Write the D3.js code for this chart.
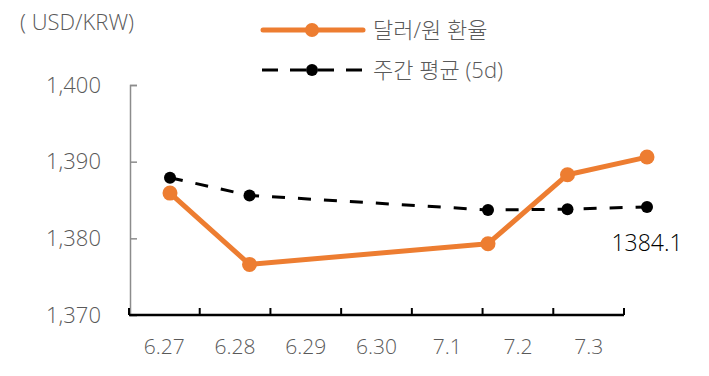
<!DOCTYPE html>
<html>
<head>
<meta charset="utf-8">
<script src="https://cdn.jsdelivr.net/npm/d3@7"></script>
<style>
  body { margin: 0; background: #fff; }
  text { font-family: "Open Sans", "Noto Sans CJK KR", sans-serif; font-weight: 300; }
</style>
</head>
<body>
<div id="chart"></div>
<script>
// 데이터 (6.29, 6.30 은 값 없음)
const dates = ["6.27", "6.28", "6.29", "6.30", "7.1", "7.2", "7.3"];
const usdKrw = [1385.9, 1376.6, null, null, 1379.3, 1388.3, 1390.6];
const weeklyAvg = [1387.9, 1385.6, null, null, 1383.7, 1383.8, 1384.1];
const yTicks = [1370, 1380, 1390, 1400];
const seriesNames = ["달러/원 환율", "주간 평균 (5d)"];
const lastLabel = "1384.1";

const width = 709, height = 376;
const orange = "#ED7D31";

const svg = d3.select("#chart").append("svg")
  .attr("width", width)
  .attr("height", height);

// 축 스케일
const xAxisScale = d3.scaleBand().domain(dates).range([129, 624]);
const xLine = d3.scalePoint().domain(dates).range([170, 647]);
const y = d3.scaleLinear().domain([1370, 1400]).range([315, 85]);

// y축
const yAxis = svg.append("g")
  .attr("transform", "translate(130,0)")
  .call(d3.axisRight(y).tickValues(yTicks).tickSize(7).tickFormat(""));
yAxis.select(".domain").attr("stroke", "#8c8c8c").attr("stroke-width", 1.5);
yAxis.selectAll(".tick line").attr("stroke", "#8c8c8c").attr("stroke-width", 1.5);

svg.selectAll(".ylab")
  .data(yTicks)
  .join("text")
  .attr("x", 101)
  .attr("y", d => y(d))
  .attr("dy", "0.35em")
  .attr("text-anchor", "end")
  .attr("font-size", 22)
  .attr("fill", "#595959")
  .text(d => d3.format(",")(d));

// x축
const xAxis = svg.append("g")
  .attr("transform", "translate(0,315)")
  .call(d3.axisBottom(xAxisScale).tickSize(0).tickFormat(""));
xAxis.select(".domain").remove();
svg.append("line")
  .attr("x1", 129).attr("x2", 624)
  .attr("y1", 315).attr("y2", 315)
  .attr("stroke", "#000").attr("stroke-width", 2.5);
const bounds = dates.map(d => xAxisScale(d)).concat([xAxisScale.range()[1]]);
svg.selectAll(".xtick")
  .data(bounds)
  .join("line")
  .attr("x1", d => d).attr("x2", d => d)
  .attr("y1", 315).attr("y2", 308)
  .attr("stroke", "#000").attr("stroke-width", 2);

svg.selectAll(".xlab")
  .data(dates)
  .join("text")
  .attr("x", d => xAxisScale(d) + xAxisScale.bandwidth() / 2)
  .attr("y", 347)
  .attr("dy", "0.35em")
  .attr("text-anchor", "middle")
  .attr("font-size", 21)
  .attr("fill", "#595959")
  .text(d => d);

// 단위
svg.append("text")
  .attr("x", 20).attr("y", 22).attr("dy", "0.35em")
  .attr("font-size", 22).attr("fill", "#595959")
  .text("( USD/KRW)");

// 선 그리기
function toPoints(values) {
  return dates.map((d, i) => ({ date: d, value: values[i] })).filter(p => p.value != null);
}
const line = d3.line().x(d => xLine(d.date)).y(d => y(d.value));

const orangePts = toPoints(usdKrw);
const blackPts = toPoints(weeklyAvg);

svg.append("path")
  .datum(orangePts)
  .attr("d", line)
  .attr("fill", "none")
  .attr("stroke", orange)
  .attr("stroke-width", 5)
  .attr("stroke-linejoin", "round");
svg.selectAll(".odot")
  .data(orangePts)
  .join("circle")
  .attr("cx", d => xLine(d.date))
  .attr("cy", d => y(d.value))
  .attr("r", 7.5)
  .attr("fill", orange);

svg.append("path")
  .datum(blackPts)
  .attr("d", line)
  .attr("fill", "none")
  .attr("stroke", "#000")
  .attr("stroke-width", 3)
  .attr("stroke-dasharray", "13,13");
svg.selectAll(".bdot")
  .data(blackPts)
  .join("circle")
  .attr("cx", d => xLine(d.date))
  .attr("cy", d => y(d.value))
  .attr("r", 6)
  .attr("fill", "#000");

// 마지막 값 라벨
const last = blackPts[blackPts.length - 1];
svg.append("text")
  .attr("x", xLine(last.date))
  .attr("y", y(last.value) + 36)
  .attr("dy", "0.35em")
  .attr("text-anchor", "middle")
  .attr("font-size", 23)
  .attr("fill", "#000")
  .text(lastLabel);

// 범례
const legend = svg.append("g");
legend.append("line")
  .attr("x1", 263).attr("x2", 363).attr("y1", 30).attr("y2", 30)
  .attr("stroke", orange).attr("stroke-width", 5).attr("stroke-linecap", "round");
legend.append("circle").attr("cx", 312).attr("cy", 30).attr("r", 7).attr("fill", orange);
legend.append("line")
  .attr("x1", 262).attr("x2", 362).attr("y1", 70).attr("y2", 70)
  .attr("stroke", "#000").attr("stroke-width", 3).attr("stroke-dasharray", "16,12");
legend.append("circle").attr("cx", 312).attr("cy", 70).attr("r", 6).attr("fill", "#000");
legend.selectAll(".ltext")
  .data(seriesNames)
  .join("text")
  .attr("x", 373)
  .attr("y", (d, i) => 30 + i * 40)
  .attr("dy", "0.35em")
  .attr("font-size", 22)
  .attr("fill", "#595959")
  .text(d => d);
</script>
</body>
</html>
